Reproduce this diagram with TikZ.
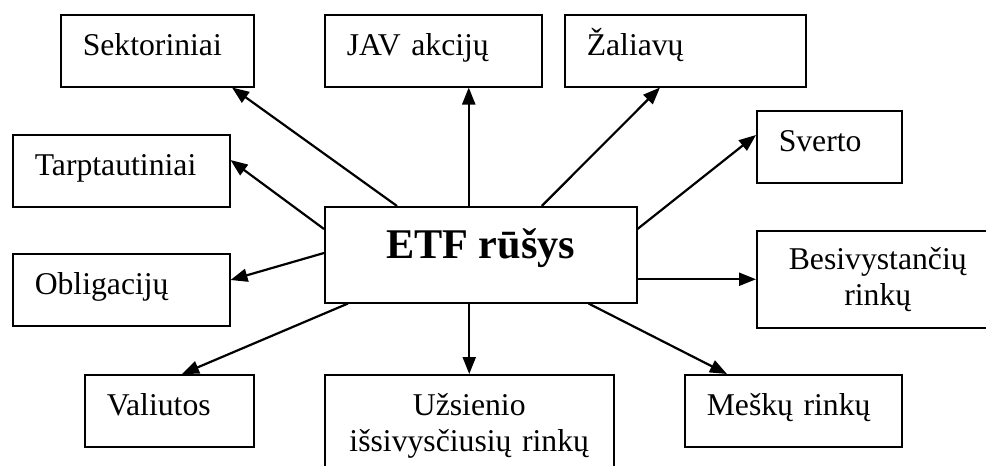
\documentclass[tikz,border=0pt]{standalone}
\usepackage{fontspec}
\setmainfont{Liberation Serif}
\usetikzlibrary{arrows.meta}

\begin{document}
\begin{tikzpicture}[x=1pt, y=-1pt,
  base/.style={draw, line width=1.5pt, anchor=north west, inner xsep=22pt, inner ysep=0pt, font=\fontsize{31.7}{36}\selectfont},
  kind/.style={base, text height=41pt, text depth=31pt, align=left},
  twoline/.style={base, align=center},
  arr/.style={-{Triangle[length=17pt, width=13pt]}, line width=2.2pt}]
  \useasboundingbox (0,0) rectangle (986,466);

  % Centre box
  \node[draw, line width=1.5pt, anchor=north west, minimum width=312pt, inner sep=0pt, text height=52pt, text depth=44pt, font=\fontsize{42.3}{48}\selectfont\bfseries] (etf) at (324,206) {ETF rūšys};

  % Top row
  \node[kind, text width=149pt] (sekt) at (60,14) {Sektoriniai};
  \node[kind, text width=173pt] (jav) at (324,14) {JAV akcijų};
  \node[kind, text width=197pt] (zal) at (564,14) {Žaliavų};

  % Left and right sides
  \node[kind, text width=173pt] (tarpt) at (12,134) {Tarptautiniai};
  \node[kind, text width=173pt] (oblig) at (12,253) {Obligacijų};
  \node[kind, text width=101pt] (sverto) at (756,110) {Sverto};
  \node[twoline, text width=198pt, minimum height=97pt] (besiv) at (756,230) {Besivystančių\\rinkų};

  % Bottom row
  \node[kind, text width=125pt] (valiut) at (84,374) {Valiutos};
  \node[twoline, text width=245pt, minimum height=102pt] (uzs) at (324,374) {Užsienio\\išsivysčiusių rinkų};
  \node[kind, text width=173pt] (mesk) at (684,374) {Meškų rinkų};

  % Arrows
  \draw[arr] ([xshift=73pt]etf.north west) -- ([xshift=172pt]sekt.south west);
  \draw[arr] ([xshift=-12pt]etf.north) -- ([xshift=-12pt]etf.north |- jav.south);
  \draw[arr] ([xshift=61pt]etf.north) -- ([xshift=96pt]zal.south west);
  \draw[arr] ([yshift=-23pt]etf.north east) -- ([yshift=-25pt]sverto.north west);
  \draw[arr] (etf.east |- besiv.west) -- (besiv.west);
  \draw[arr] ([xshift=-49pt]etf.south east) -- ([xshift=43pt]mesk.north west);
  \draw[arr] (etf.south -| uzs.north) -- (uzs.north);
  \draw[arr] ([xshift=24pt]etf.south west) -- ([xshift=98pt]valiut.north west);
  \draw[arr] ([yshift=-47pt]etf.north west) -- ([yshift=-27pt]oblig.north east);
  \draw[arr] ([yshift=-23pt]etf.north west) -- ([yshift=-26pt]tarpt.north east);
\end{tikzpicture}
\end{document}
